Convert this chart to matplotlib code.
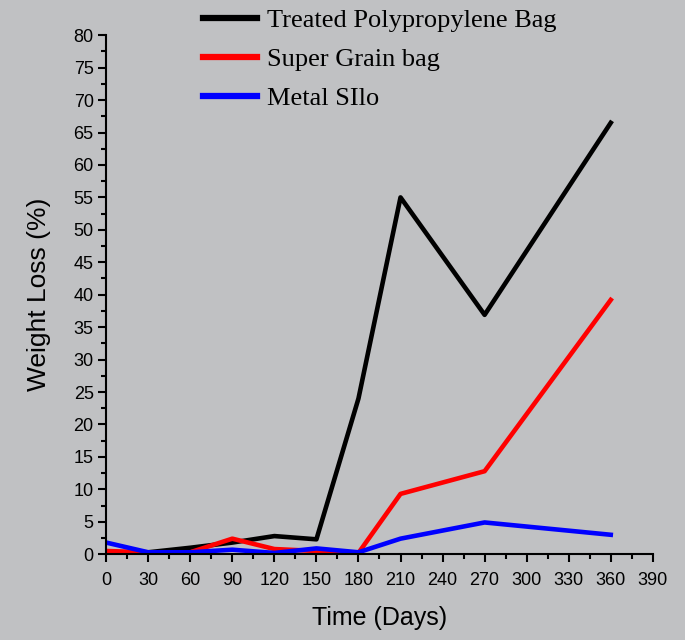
import matplotlib
matplotlib.use('Agg')
import matplotlib.pyplot as plt
from matplotlib.ticker import MultipleLocator

days = [0, 30, 60, 90, 120, 150, 180, 210, 270, 360]
treated_pp = [0.3, 0.3, 1.0, 1.8, 2.8, 2.3, 24.0, 55.0, 36.9, 66.5]
super_grain = [0.5, 0.3, 0.3, 2.4, 0.8, 0.5, 0.2, 9.3, 12.8, 39.2]
metal_silo = [1.8, 0.3, 0.3, 0.7, 0.2, 0.9, 0.3, 2.4, 4.9, 3.0]

bg = '#c0c1c3'
fig = plt.figure(figsize=(6.85, 6.4), dpi=100, facecolor=bg)
ax = fig.add_axes([0.155, 0.134, 0.798, 0.811], facecolor=bg)

ax.plot(days, treated_pp, color='black', lw=3.3, label='Treated Polypropylene Bag')
ax.plot(days, super_grain, color='#ff0000', lw=3.3, label='Super Grain bag')
ax.plot(days, metal_silo, color='#0000ff', lw=3.3, label='Metal SIlo')

ax.set_xlim(0, 390)
ax.set_ylim(0, 80)
ax.xaxis.set_major_locator(MultipleLocator(30))
ax.xaxis.set_minor_locator(MultipleLocator(15))
ax.yaxis.set_major_locator(MultipleLocator(5))
ax.yaxis.set_minor_locator(MultipleLocator(2.5))
for s in ['top', 'right']:
    ax.spines[s].set_visible(False)
for s in ['left', 'bottom']:
    ax.spines[s].set_linewidth(1.5)
ax.tick_params(axis='x', which='major', direction='out', length=6, width=1.5,
               labelsize=13, pad=7)
ax.tick_params(axis='y', which='major', direction='out', length=6, width=1.5,
               labelsize=13, pad=3)
ax.tick_params(which='minor', direction='out', length=3.5, width=1.5)
for lbl in ax.get_xticklabels() + ax.get_yticklabels():
    lbl.set_family('Liberation Sans')

ax.set_xlabel('Time (Days)', fontsize=18, family='Liberation Sans', labelpad=12)
ax.set_ylabel('Weight Loss (%)', fontsize=19, family='Liberation Sans', labelpad=16)

leg = ax.legend(loc='upper left', bbox_to_anchor=(0.262, 1.024),
                bbox_transform=fig.transFigure, frameon=False,
                prop={'family': 'Liberation Serif', 'size': 19},
                handlelength=2.05, handletextpad=0.35, labelspacing=0.6)
for h in leg.get_lines():
    h.set_linewidth(4.5)

fig.savefig('out.png', dpi=100, facecolor=bg)
